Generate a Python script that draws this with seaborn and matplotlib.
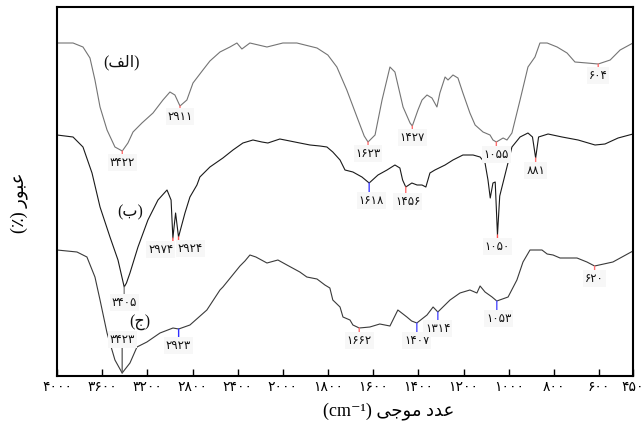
import matplotlib
matplotlib.use("Agg")
import matplotlib.pyplot as plt
import numpy as np
import seaborn as sns


# %% Spectra (wavenumber in cm-1, transmittance in arbitrary units)
wn_a = [4000, 3858, 3770, 3708, 3664, 3619, 3557, 3487, 3422, 3372, 3327, 3248, 3150,
        3062, 3000, 2956, 2911, 2850, 2796, 2708, 2646, 2557, 2469, 2407, 2363, 2292,
        2141, 2000, 1938, 1849, 1801, 1761, 1717, 1672, 1640, 1623, 1592, 1561, 1526,
        1504, 1468, 1437, 1427, 1402, 1384, 1362, 1340, 1318, 1305, 1282, 1269, 1247,
        1225, 1203, 1172, 1149, 1114, 1083, 1070, 1055, 1025, 1008, 986, 950, 915, 884,
        862, 830, 786, 742, 707, 654, 604, 551, 507, 450]
tr_a = [333, 333, 329, 318, 296, 269, 246, 229, 225, 233, 244, 253, 263,
        276, 284, 281, 270, 276, 293, 306, 315, 324, 329, 333, 327, 333,
        329, 333, 333, 328, 321, 309, 286, 259, 240, 234, 241, 276, 309,
        304, 269, 253, 250, 266, 276, 281, 278, 269, 283, 299, 296, 301,
        298, 283, 263, 251, 244, 241, 236, 234, 238, 236, 243, 276, 309, 319,
        333, 333, 329, 323, 314, 313, 312, 316, 326, 333]

wn_b = [4000, 3858, 3770, 3690, 3619, 3531, 3460, 3405, 3385, 3354, 3283, 3195, 3106,
        3026, 2990, 2974, 2950, 2924, 2867, 2823, 2761, 2735, 2646, 2531, 2442, 2354,
        2265, 2186, 2133, 2027, 1969, 1925, 1880, 1836, 1805, 1779, 1747, 1725, 1690,
        1650, 1618, 1579, 1539, 1504, 1482, 1470, 1456, 1429, 1406, 1384, 1367, 1349,
        1327, 1282, 1247, 1203, 1158, 1127, 1105, 1092, 1082, 1070, 1060, 1050, 1040,
        1008, 986, 950, 915, 895, 881, 868, 826, 764, 693, 618, 574, 516, 450]
tr_b = [241, 239, 229, 203, 169, 139, 116, 89, 93, 103, 129, 156, 176,
        186, 176, 138, 163, 139, 163, 179, 191, 199, 209, 218, 226, 233,
        236, 234, 233, 237, 235, 233, 231, 230, 229, 224, 216, 206, 204,
        199, 193, 201, 206, 211, 208, 196, 189, 193, 191, 191, 189, 203,
        206, 211, 216, 221, 221, 219, 213, 196, 178, 193, 194, 141, 180,
        209, 229, 239, 243, 239, 218, 239, 242, 239, 236, 231, 232, 238, 242]

wn_c = [4000, 3823, 3735, 3664, 3619, 3557, 3487, 3423, 3354, 3292, 3204, 3088, 2973,
        2923, 2823, 2673, 2557, 2531, 2380, 2336, 2292, 2239, 2141, 2044, 1982, 1925,
        1894, 1849, 1814, 1792, 1779, 1747, 1734, 1703, 1690, 1662, 1615, 1571, 1526,
        1491, 1451, 1430, 1407, 1362, 1335, 1314, 1260, 1216, 1172, 1141, 1127, 1105,
        1074, 1053, 1003, 964, 937, 906, 853, 830, 804, 773, 698, 654, 620, 539, 450]
tr_c = [126, 124, 119, 99, 76, 43, 16, 3, 13, 29, 34, 43, 48,
        47, 51, 66, 86, 89, 110, 115, 121, 119, 113, 116, 111, 104,
        99, 97, 91, 88, 76, 69, 59, 56, 51, 48, 49, 52, 50,
        66, 59, 55, 53, 61, 69, 64, 76, 83, 86, 83, 90, 84,
        79, 75, 79, 96, 114, 126, 126, 122, 121, 118, 118, 114, 110, 114, 125]

# marked bands: wavenumber, tick colour
peaks_a = [(3422, "#ff7070"), (2911, "#ff7070"), (1623, "#ff7070"),
           (1427, "#ff7070"), (1055, "#ff7070"), (604, "#ff7070")]
peaks_b = [(3405, "#888888"), (2974, "#ff5050"), (2924, "#ff5050"), (1618, "#4040ff"),
           (1456, "#ff7070"), (1050, "#ff5050"), (881, "#ff7070")]
peaks_c = [(2923, "#3030ff"), (1662, "#ff7070"), (1407, "#5050ff"),
           (1314, "#5050ff"), (1053, "#5050ff"), (620, "#ff7070")]

series_labels = ["(الف)", "(ب)", "(ج)"]
series_label_pos = [(3430, 314), (3354, 164), (3265, 53)]

xticks = [4000, 3600, 3200, 2800, 2400, 2000, 1800, 1600, 1400, 1200, 1000, 800, 600, 450]
xlabel_fa = "عدد موجی"
ylabel_fa = "عبور (٪)"

# tick length / horizontal shift of the label, in pixels
tick_len = {3422: 3, 2911: 2, 1623: 3, 1427: 3, 1055: 4, 604: 3,
            3405: 7, 2974: 3, 2924: 3, 1618: 9, 1456: 6, 1050: 3, 881: 4,
            2923: 8, 1662: 4, 1407: 9, 1314: 8, 1053: 9, 620: 4}
label_dx = {2974: -12, 2924: 12, 1618: 2, 1456: 2, 1053: 2}


# %% minimal Persian shaping (matplotlib does no joining / bidi)
FORMS = {  # isolated, final, initial, medial
    "ا": ("\uFE8D", "\uFE8E", None, None),
    "ب": ("\uFE8F", "\uFE90", "\uFE91", "\uFE92"),
    "ج": ("\uFE9D", "\uFE9E", "\uFE9F", "\uFEA0"),
    "د": ("\uFEA9", "\uFEAA", None, None),
    "ر": ("\uFEAD", "\uFEAE", None, None),
    "ع": ("\uFEC9", "\uFECA", "\uFECB", "\uFECC"),
    "ف": ("\uFED1", "\uFED2", "\uFED3", "\uFED4"),
    "ل": ("\uFEDD", "\uFEDE", "\uFEDF", "\uFEE0"),
    "م": ("\uFEE1", "\uFEE2", "\uFEE3", "\uFEE4"),
    "و": ("\uFEED", "\uFEEE", None, None),
    "ی": ("\uFBFC", "\uFBFD", "\uFBFE", "\uFBFF"),
}
MIRROR = {"(": ")", ")": "("}


def rtl(text):
    out = []
    for i, ch in enumerate(text):
        if ch not in FORMS:
            out.append(MIRROR.get(ch, ch))
            continue
        prev = text[i - 1] if i > 0 else ""
        nxt = text[i + 1] if i + 1 < len(text) else ""
        iso, fin, ini, med = FORMS[ch]
        j_prev = prev in FORMS and FORMS[prev][2] is not None
        j_next = nxt in FORMS and ini is not None
        if j_prev and j_next:
            out.append(med)
        elif j_prev:
            out.append(fin)
        elif j_next:
            out.append(ini)
        else:
            out.append(iso)
    return "".join(out[::-1])


FA_DIGITS = str.maketrans("0123456789", "۰۱۲۳۴۵۶۷۸۹")


def fa(n):
    return str(n).translate(FA_DIGITS)


# axis is compressed by 2 above 2000 cm-1
def fwd(w):
    w = np.asarray(w, dtype=float)
    return np.where(w > 2000, 2000 + (w - 2000) / 2, w)


def inv(u):
    u = np.asarray(u, dtype=float)
    return np.where(u > 2000, 2000 + (u - 2000) * 2, u)


# %% plot
sns.set_theme(style="white")
plt.rcParams["font.family"] = ["Liberation Serif", "DejaVu Sans"]

fig = plt.figure(figsize=(6.41, 4.29), dpi=100)
ax = fig.add_axes([57 / 641, 1 - 376 / 429, 576 / 641, 369 / 429])

spectra = [(wn_a, tr_a, "#747474", peaks_a),
           (wn_b, tr_b, "#1a1a1a", peaks_b),
           (wn_c, tr_c, "#3a3a3a", peaks_c)]

for wn, tr, color, peaks in spectra:
    sns.lineplot(x=wn, y=tr, ax=ax, color=color, linewidth=0.8, errorbar=None)
    wn_arr = np.array(wn)[::-1]
    tr_arr = np.array(tr)[::-1]
    for w, tcol in peaks:
        yv = np.interp(w, wn_arr, tr_arr)
        L = tick_len.get(w, 3)
        ax.annotate("", xy=(w, yv), xytext=(0, -L), textcoords="offset pixels",
                    arrowprops=dict(arrowstyle="-", color=tcol, lw=1.0,
                                    shrinkA=0, shrinkB=0))
        ax.annotate(fa(w), xy=(w, yv), xytext=(label_dx.get(w, 0), -L - 2),
                    textcoords="offset pixels", ha="center", va="top",
                    fontsize=8.5, family=["DejaVu Sans"], color="#111111",
                    bbox=dict(boxstyle="square,pad=0.15", fc="#f7f7f7", ec="none"))

# 3423 band of spectrum (ج) is labelled above the minimum
w0 = 3423
y0 = np.interp(w0, np.array(wn_c)[::-1], np.array(tr_c)[::-1])
ax.annotate("", xy=(w0, y0), xytext=(0, 26), textcoords="offset pixels",
            arrowprops=dict(arrowstyle="-", color="#555555", lw=0.9, shrinkA=0, shrinkB=0))
ax.annotate(fa(w0), xy=(w0, y0), xytext=(0, 27), textcoords="offset pixels",
            ha="center", va="bottom", fontsize=8.5, family=["DejaVu Sans"], color="#111111",
            bbox=dict(boxstyle="square,pad=0.15", fc="#f7f7f7", ec="none"))

for lab, (x, y) in zip(series_labels, series_label_pos):
    ax.text(x, y, rtl(lab), ha="center", va="center", fontsize=11.5, color="#111111")

ax.set_xscale("function", functions=(fwd, inv))
ax.set_xlim(4000, 450)
ax.set_ylim(0, 369)
ax.set_xticks(xticks)
ax.set_xticklabels([fa(t) for t in xticks], family=["DejaVu Sans"], fontsize=10)
ax.set_yticks([])
ax.minorticks_off()
ax.tick_params(axis="x", direction="in", length=5, width=1, color="black",
               pad=3, bottom=True, labelcolor="black")

for sp in ax.spines.values():
    sp.set_color("black")
    sp.set_linewidth(1.5)

ax.set_xlabel("(cm\u207B\u00B9) " + rtl(xlabel_fa), fontsize=13, color="black")
ax.xaxis.set_label_coords(0.575, -0.07)
ax.set_ylabel(rtl(ylabel_fa), fontsize=13, color="black")
ax.yaxis.set_label_coords(-0.05, 0.47)

fig.savefig("out.png", dpi=100)
